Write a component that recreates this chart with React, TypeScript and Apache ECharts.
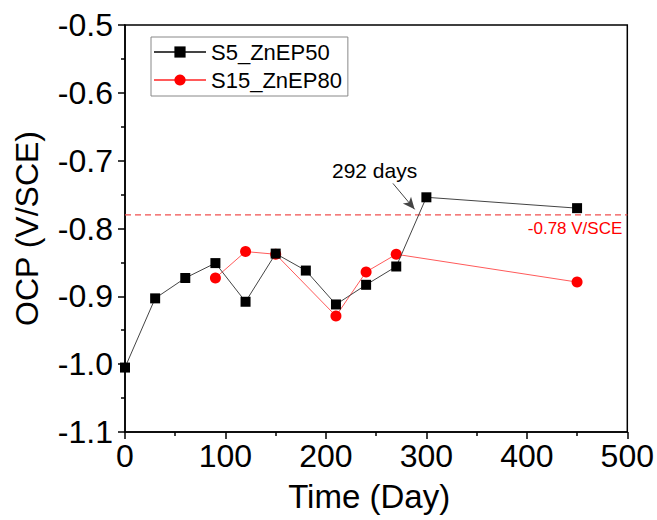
import React, { useEffect, useRef } from "react";
import * as echarts from "echarts";

const days = [0, 30, 60, 90, 120, 150, 180, 210, 240, 270, 300, 450];
const s5Values = [-1.005, -0.903, -0.873, -0.851, -0.908, -0.837, -0.862, -0.912, -0.883, -0.856, -0.754, -0.770];
const s15Days = [90, 120, 150, 210, 240, 270, 450];
const s15Values = [-0.873, -0.834, -0.838, -0.929, -0.864, -0.838, -0.879];
const seriesNames = ["S5_ZnEP50", "S15_ZnEP80"];
const refLevel = -0.78;
const refRange = [0, 500];
const refLabel = "-0.78 V/SCE";
const arrowFrom = [266.7, -0.7335];
const arrowTo = [288.3, -0.7718];
const noteText = "292 days";

const FONT = "'Liberation Sans', Arial, sans-serif";

export default function App() {
  const ref = useRef<HTMLDivElement>(null);
  useEffect(() => {
    document.body.style.margin = "0";
    if (!ref.current) return;
    const chart = echarts.init(ref.current, undefined, { renderer: "svg" });
    chart.setOption({
      animation: false,
      backgroundColor: "#fff",
      textStyle: { fontFamily: FONT },
      grid: {
        left: 125,
        right: 29,
        top: 25,
        bottom: 88,
        show: true,
        borderColor: "#000",
        borderWidth: 1.5,
      },
      legend: {
        orient: "vertical",
        left: 151,
        top: 37,
        data: seriesNames,
        borderColor: "#888",
        borderWidth: 1,
        padding: [4, 6, 5, 2],
        itemGap: 6,
        itemWidth: 52,
        itemHeight: 14,
        textStyle: { fontSize: 22, color: "#000", fontFamily: FONT },
      },
      xAxis: {
        type: "value",
        min: 0,
        max: 500,
        interval: 100,
        name: "Time (Day)",
        nameLocation: "middle",
        nameGap: 48,
        nameTextStyle: { fontSize: 33, color: "#000", fontFamily: FONT, padding: [0, 14, 0, 0] },
        axisLine: { lineStyle: { color: "#000", width: 1.5 } },
        axisTick: { show: true, length: 7, lineStyle: { color: "#000", width: 1.5 } },
        minorTick: { show: true, splitNumber: 2, length: 4, lineStyle: { color: "#000", width: 1.5 } },
        splitLine: { show: false },
        axisLabel: { fontSize: 32, color: "#000", margin: 8, fontFamily: FONT },
      },
      yAxis: {
        type: "value",
        min: -1.1,
        max: -0.5,
        interval: 0.1,
        name: "OCP (V/SCE)",
        nameLocation: "middle",
        nameGap: 82,
        nameTextStyle: { fontSize: 32, color: "#000", fontFamily: FONT },
        axisLine: { lineStyle: { color: "#000", width: 1.5 } },
        axisTick: { show: true, length: 7, lineStyle: { color: "#000", width: 1.5 } },
        minorTick: { show: true, splitNumber: 2, length: 4, lineStyle: { color: "#000", width: 1.5 } },
        splitLine: { show: false },
        axisLabel: {
          fontSize: 32,
          color: "#000",
          margin: 12,
          fontFamily: FONT,
          formatter: (v: number) => v.toFixed(1),
        },
      },
      series: [
        {
          name: "ref",
          type: "line",
          data: refRange.map((d) => [d, refLevel]),
          symbol: "none",
          silent: true,
          z: 1,
          itemStyle: { color: "#f05050" },
          lineStyle: { color: "#f05050", width: 1.2, type: [6, 4] },
          markLine: {
            silent: true,
            symbol: ["none", "none"],
            lineStyle: { color: "rgba(255,255,255,0)", width: 0 },
            label: {
              show: true,
              position: "insideEndBottom",
              formatter: refLabel,
              color: "#ff0000",
              fontSize: 17,
              fontFamily: FONT,
              distance: 5,
            },
            data: [{ yAxis: refLevel }],
          },
        },
        {
          name: seriesNames[0],
          type: "line",
          data: days.map((d, i) => [d, s5Values[i]]),
          symbol: "rect",
          symbolSize: 10,
          itemStyle: { color: "#000" },
          lineStyle: { color: "#444", width: 1 },
          z: 3,
          markLine: {
            silent: true,
            symbol: ["none", "arrow"],
            symbolSize: [8, 12],
            lineStyle: { color: "#444", width: 1, type: "solid" },
            label: { show: false },
            data: [
              [
                { coord: arrowFrom },
                { coord: arrowTo, lineStyle: { color: "#444" }, itemStyle: { color: "#000" } },
              ],
            ],
          },
        },
        {
          name: seriesNames[1],
          type: "line",
          data: s15Days.map((d, i) => [d, s15Values[i]]),
          symbol: "circle",
          symbolSize: 11,
          itemStyle: { color: "#ff0000" },
          lineStyle: { color: "#ff5a5a", width: 1 },
          z: 2,
        },
      ],
      graphic: [
        {
          type: "text",
          left: 332,
          top: 160,
          style: { text: noteText, fontSize: 21, fill: "#000", fontFamily: FONT },
        },
      ],
    });
    return () => chart.dispose();
  }, []);
  return <div ref={ref} style={{ width: 657, height: 520 }} />;
}
